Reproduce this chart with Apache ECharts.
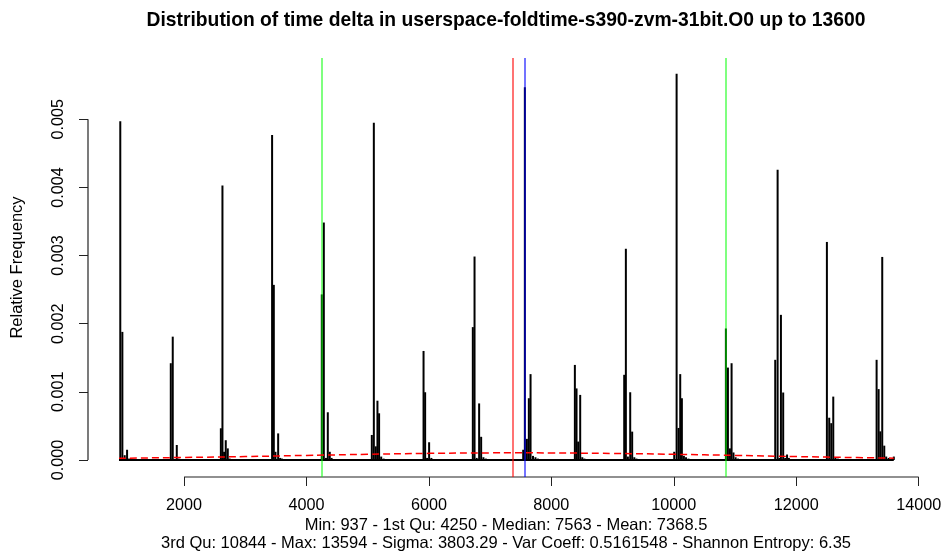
<!DOCTYPE html>
<html><head><meta charset="utf-8">
<script src="https://cdn.jsdelivr.net/npm/echarts@6/dist/echarts.min.js"></script>
<style>html,body{margin:0;padding:0;background:#fff}#c{width:944px;height:556px}</style>
</head><body><div id="c"></div>
<script>
// histogram bins (time delta) and their relative frequency
const binCenters = [
  958, 992, 1030, 1069, 1100,
  1783, 1815, 1881, 1910,
  2601, 2627, 2654, 2681, 2714, 2745,
  3438, 3466, 3493, 3537, 3570, 3600,
  4250, 4283, 4318, 4348, 4380, 4410,
  5067, 5100, 5132, 5159, 5186, 5220, 5260,
  5912, 5938, 5970, 6003, 6040,
  6717, 6745, 6780, 6820, 6853, 6890, 6930,
  7540, 7567, 7600, 7632, 7660, 7700, 7740, 7780,
  8384, 8411, 8438, 8471, 8505, 8540,
  9190, 9217, 9250, 9288, 9320, 9355, 9390,
  10007, 10046, 10078, 10105, 10132, 10165, 10200, 10240,
  10851, 10884, 10917, 10944, 10975, 11010, 11050,
  11657, 11696, 11725, 11750, 11787, 11820, 11850, 11880,
  12501, 12539, 12572, 12605, 12640, 12680,
  13313, 13346, 13373, 13405, 13438, 13470, 13510, 13594
];
const relFreq = [
  0.00497, 0.00188, 0.00007, 0.00015, 0.00002,
  0.00142, 0.00181, 0.00022, 0.00002,
  0.000465, 0.00403, 0.00012, 0.00029, 0.00017, 0.00002,
  0.00477, 0.00257, 0.00012, 0.00039, 0.00003, 0.00002,
  0.00243, 0.003485, 0.00003, 0.0007, 0.00012, 0.00003,
  0.000367, 0.00495, 0.0002, 0.00087, 0.000685, 0.00005, 0.00002,
  0.0016, 0.000994, 0.00003, 0.00026, 0.00003,
  0.00195, 0.002986, 0.00003, 0.00083, 0.00034, 0.00004, 0.00002,
  0.00015, 0.00547, 0.00031, 0.000906, 0.00126, 0.00006, 0.00004, 0.00002,
  0.001395, 0.00105, 0.00027, 0.000955, 0.00004, 0.00002,
  0.00125, 0.0031, 0.00005, 0.000994, 0.000416, 0.00004, 0.00002,
  0.00012, 0.00567, 0.00047, 0.00126, 0.000906, 0.00006, 0.00004, 0.00002,
  0.00193, 0.001356, 0.00017, 0.00142, 0.00011, 0.00004, 0.00002,
  0.00147, 0.00426, 0.00003, 0.00213, 0.00099, 0.00003, 0.00008, 0.00003,
  0.0032, 0.00062, 0.00054, 0.00093, 0.00004, 0.00002,
  0.00147, 0.00104, 0.00042, 0.00298, 0.00021, 0.00005, 0.00003, 0.00005
];
// red dashed curve
const curveX = [937, 2000, 3000, 4000, 5000, 6000, 7000, 7400, 8000, 9000, 10000, 11000, 12000, 13000, 13594];
const curveY = [0.000025, 0.000037, 0.000050, 0.000067, 0.000083, 0.000097, 0.000104, 0.000105, 0.000103, 0.000096, 0.000083, 0.000067, 0.000050, 0.000035, 0.000027];
const xTicks = [2000, 4000, 6000, 8000, 10000, 12000, 14000];
const yTicks = [0, 0.001, 0.002, 0.003, 0.004, 0.005];
const quartileValues = [4250, 10844];
const meanValue = 7368.5;
const medianValue = 7563;
const dataMin = 937, dataMax = 13594;
const xMin = 430.7, xMax = 14100.3;
const yMin = -0.00025, yMax = 0.0059;

const titleText = 'Distribution of time delta in userspace-foldtime-s390-zvm-31bit.O0 up to 13600';
const subLine1 = 'Min: 937 - 1st Qu: 4250 - Median: 7563 - Mean: 7368.5';
const subLine2 = '3rd Qu: 10844 - Max: 13594 - Sigma: 3803.29 - Var Coeff: 0.5161548 - Shannon Entropy: 6.35';

const FONT = 'Liberation Sans, Arial, Helvetica, sans-serif';
const chart = echarts.init(document.getElementById('c'), null, {renderer: 'canvas'});
chart.setOption({
  animation: false,
  backgroundColor: '#fff',
  grid: {left: 88, right: 19.2, top: 58, bottom: 79, containLabel: false, outerBoundsMode: 'none'},
  graphic: [
    {type: 'text', x: 506, y: 21, style: {text: titleText, font: 'bold 19.3px ' + FONT, fill: '#000', textAlign: 'center', textVerticalAlign: 'middle'}},
    {type: 'text', x: 506, y: 525, style: {text: subLine1, font: '16.5px ' + FONT, fill: '#000', textAlign: 'center', textVerticalAlign: 'middle'}},
    {type: 'text', x: 506, y: 543.5, style: {text: subLine2, font: '16.5px ' + FONT, fill: '#000', textAlign: 'center', textVerticalAlign: 'middle'}}
  ],
  xAxis: {
    type: 'value', min: xMin, max: xMax,
    axisLine: {show: false, onZero: false}, splitLine: {show: false},
    axisTick: {show: true, customValues: xTicks, length: 9, lineStyle: {color: '#222', width: 1}},
    axisLabel: {customValues: xTicks, margin: 21, fontSize: 16.2, color: '#000', fontFamily: FONT,
      formatter: v => String(v)}
  },
  yAxis: {
    type: 'value', min: yMin, max: yMax,
    axisLine: {show: false, onZero: false}, splitLine: {show: false},
    axisTick: {show: true, customValues: yTicks, length: 9, lineStyle: {color: '#222', width: 1}},
    axisLabel: {customValues: yTicks, rotate: 90, margin: 21, fontSize: 16.2, color: '#000', fontFamily: FONT,
      formatter: v => v.toFixed(3)},
    name: 'Relative Frequency', nameLocation: 'middle', nameRotate: 90, nameGap: 62,
    nameTextStyle: {fontSize: 16.5, color: '#000', fontFamily: FONT}
  },
  series: [
    {
      type: 'bar', name: 'hist', barWidth: 2, z: 2,
      itemStyle: {color: '#000'},
      data: binCenters.map((x, i) => [x, relFreq[i]])
    },
    {
      type: 'line', name: 'zero', z: 3, symbol: 'none', clip: false,
      lineStyle: {color: '#000', width: 2},
      data: [[dataMin, 0], [dataMax, 0]],
      markLine: {
        silent: true, symbol: 'none', label: {show: false}, z: 6,
        data: [
          {xAxis: quartileValues[0], lineStyle: {color: 'rgba(0,255,0,0.5)', width: 2, type: 'solid'}},
          {xAxis: quartileValues[1], lineStyle: {color: 'rgba(0,255,0,0.5)', width: 2, type: 'solid'}},
          {xAxis: meanValue, lineStyle: {color: 'rgba(255,0,0,0.55)', width: 2, type: 'solid'}},
          {xAxis: medianValue, lineStyle: {color: 'rgba(0,0,255,0.55)', width: 2, type: 'solid'}}
        ]
      }
    },
    {
      type: 'line', name: 'curve', z: 7, symbol: 'none', smooth: true,
      lineStyle: {color: '#ff0000', width: 1.5, type: [7, 4]},
      data: curveX.map((x, i) => [x, curveY[i]])
    },
    {
      type: 'line', name: 'xaxisline', z: 4, symbol: 'none', clip: false,
      lineStyle: {color: '#222', width: 1.2},
      data: [[xTicks[0], yMin], [xTicks[xTicks.length - 1], yMin]]
    },
    {
      type: 'line', name: 'yaxisline', z: 4, symbol: 'none', clip: false,
      lineStyle: {color: '#222', width: 1.2},
      data: [[xMin, yTicks[0]], [xMin, yTicks[yTicks.length - 1]]]
    }
  ]
});
</script></body></html>
